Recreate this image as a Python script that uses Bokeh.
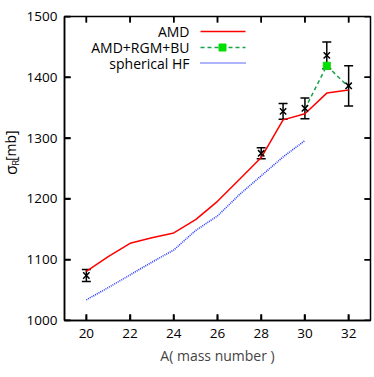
import math
from bokeh.plotting import figure
from bokeh.layouts import row
from bokeh.models import Whisker, ColumnDataSource, Label, FixedTicker, Range1d
from bokeh.embed import file_html
from bokeh.resources import INLINE

# ---- data ----
amd_A = [20, 21, 22, 23, 24, 25, 26, 27, 28, 29, 30, 31, 32]
amd_sigma = [1081, 1105, 1127, 1136, 1144, 1166, 1196, 1232, 1268, 1330, 1340, 1374, 1379]

rgm_A = [30, 31, 32]
rgm_sigma = [1348, 1419, 1384]

hf_A = [20, 21, 22, 23, 24, 25, 26, 27, 28, 29, 30]
hf_sigma = [1034, 1054, 1075, 1096, 1116, 1148, 1172, 1207, 1238, 1269, 1296]

exp_A = [20, 28, 29, 30, 31, 32]
exp_sigma = [1074, 1275, 1344, 1349, 1436, 1386]
exp_err = [10, 9, 13, 17, 22, 33]

x_ticks = [20, 22, 24, 26, 28, 30, 32]
y_ticks = [1000, 1100, 1200, 1300, 1400, 1500]

FONT = "Open Sans"
X0, X1, Y0, Y1 = 19, 33, 1000, 1500

TOTAL_W, H = 372, 374
LW = 21                      # narrow strip holding the rotated y-axis title
W = TOTAL_W - LW
ML, MR, MT, MB = 64 - LW, 2, 16, 54
FW, FH = W - ML - MR, H - MT - MB
TICK = 6

p = figure(width=W, height=H, output_backend="svg", toolbar_location=None,
           x_range=Range1d(X0, X1), y_range=Range1d(Y0, Y1),
           min_border_left=ML, min_border_right=MR, min_border_top=MT, min_border_bottom=MB)
p.grid.visible = False
p.outline_line_color = "black"
p.outline_line_width = 1.5
p.border_fill_color = "white"

for ax in (p.xaxis[0], p.yaxis[0]):
    ax.major_tick_in = TICK
    ax.major_tick_out = 0
    ax.major_tick_line_color = "black"
    ax.major_tick_line_width = 1.5
    ax.minor_tick_in = 0
    ax.minor_tick_out = 0
    ax.axis_line_width = 1.5
    ax.major_label_text_font = FONT
    ax.major_label_text_font_size = "13.5px"
    ax.major_label_text_color = "black"
p.xaxis.ticker = FixedTicker(ticks=list(x_ticks))
p.yaxis.ticker = FixedTicker(ticks=list(y_ticks))
p.xaxis.major_label_standoff = 8
p.yaxis.major_label_standoff = 7
p.xaxis.axis_label = "A( mass number )"
p.xaxis.axis_label_text_font = FONT
p.xaxis.axis_label_text_font_size = "14px"
p.xaxis.axis_label_text_font_style = "normal"
p.xaxis.axis_label_standoff = 5

# pixel (window) -> data helpers for legend placement
def dx(px):
    return X0 + (px - (LW + ML)) / FW * (X1 - X0)
def dy(py):
    return Y1 - (py - MT) / FH * (Y1 - Y0)
tx = TICK / FW * (X1 - X0)
ty = TICK / FH * (Y1 - Y0)

# inward ticks on all four sides (segments plus short dash markers)
tick_src = ColumnDataSource(dict(
    x0=[float(t) for t in x_ticks] * 2 + [float(X0)] * len(y_ticks) + [float(X1)] * len(y_ticks),
    y0=[float(Y0)] * len(x_ticks) + [float(Y1)] * len(x_ticks) + [float(t) for t in y_ticks] * 2,
    x1=[float(t) for t in x_ticks] * 2 + [X0 + tx] * len(y_ticks) + [X1 - tx] * len(y_ticks),
    y1=[Y0 + ty] * len(x_ticks) + [Y1 - ty] * len(x_ticks) + [float(t) for t in y_ticks] * 2,
))
tick_src.data["xm"] = [(a + b) / 2 for a, b in zip(tick_src.data["x0"], tick_src.data["x1"])]
tick_src.data["ym"] = [(a + b) / 2 for a, b in zip(tick_src.data["y0"], tick_src.data["y1"])]
tick_src.data["ang"] = [math.pi / 2] * (2 * len(x_ticks)) + [0.0] * (2 * len(y_ticks))
p.segment(x0="x0", y0="y0", x1="x1", y1="y1", source=tick_src, line_color="black", line_width=1.5)
p.scatter(x="xm", y="ym", angle="ang", source=tick_src, marker="dash", size=TICK,
          line_color="black", line_width=1.5)

RED = "#ff0000"
GREEN_L = "#17a34a"
GREEN_M = "#00e000"
BLUE = "#2a3cff"

p.line(amd_A, amd_sigma, line_color=RED, line_width=1.5)
p.line(hf_A, hf_sigma, line_color=BLUE, line_width=1.6, line_dash="1 1")
p.line(rgm_A, rgm_sigma, line_color=GREEN_L, line_width=1.5, line_dash="4 3")
p.scatter(rgm_A[1:2], rgm_sigma[1:2], marker="square", size=7, fill_color=GREEN_M, line_color=GREEN_M)

src = ColumnDataSource(dict(x=exp_A, y=exp_sigma,
                            lo=[s - e for s, e in zip(exp_sigma, exp_err)],
                            hi=[s + e for s, e in zip(exp_sigma, exp_err)]))
wh = Whisker(source=src, base="x", lower="lo", upper="hi", line_color="black", line_width=1.5)
wh.upper_head.size = 9
wh.lower_head.size = 9
wh.upper_head.line_width = 1.5
wh.lower_head.line_width = 1.5
p.add_layout(wh)
p.scatter("x", "y", source=src, marker="x", size=9, line_color="black", line_width=1.5)

# legend (labels on the left, samples on the right)
leg_labels = ["AMD", "AMD+RGM+BU", "spherical HF"]
leg_y = [31, 47, 62.5]
for lab_text, py in zip(leg_labels, leg_y):
    p.add_layout(Label(x=dx(189), y=dy(py), text=lab_text, text_align="right", text_baseline="middle",
                       text_font=FONT, text_font_size="14px", text_color="black"))
p.line([dx(200), dx(245)], [dy(leg_y[0])] * 2, line_color=RED, line_width=1.5)
p.line([dx(200), dx(245)], [dy(leg_y[1])] * 2, line_color=GREEN_L, line_width=1.5, line_dash="4 3")
p.scatter([dx(222)], [dy(leg_y[1])], marker="square", size=7, fill_color=GREEN_M, line_color=GREEN_M)
p.line([dx(200), dx(245)], [dy(leg_y[2])] * 2, line_color=BLUE, line_width=1.6, line_dash="1 1")

# y-axis title strip: sigma_R [mb]
lab = figure(width=LW, height=H, output_backend="svg", toolbar_location=None,
             x_range=Range1d(0, LW), y_range=Range1d(H, 0),
             min_border=0, x_axis_location=None, y_axis_location=None)
lab.grid.visible = False
lab.outline_line_color = None
lab.border_fill_color = "white"
lab.text(x=[10.5], y=[189], text=["σ"], angle=math.pi / 2, text_align="center",
         text_baseline="middle", text_font={"value": FONT}, text_font_size="16px", text_color="black")
lab.text(x=[15], y=[180], text=["R"], angle=math.pi / 2, text_align="center",
         text_baseline="middle", text_font={"value": FONT}, text_font_size="9px", text_color="black")
lab.text(x=[10], y=[159], text=["[mb]"], angle=math.pi / 2, text_align="center",
         text_baseline="middle", text_font={"value": FONT}, text_font_size="14px", text_color="black")

layout = row(lab, p, spacing=0)
open("out.html", "w").write(file_html(layout, INLINE))
